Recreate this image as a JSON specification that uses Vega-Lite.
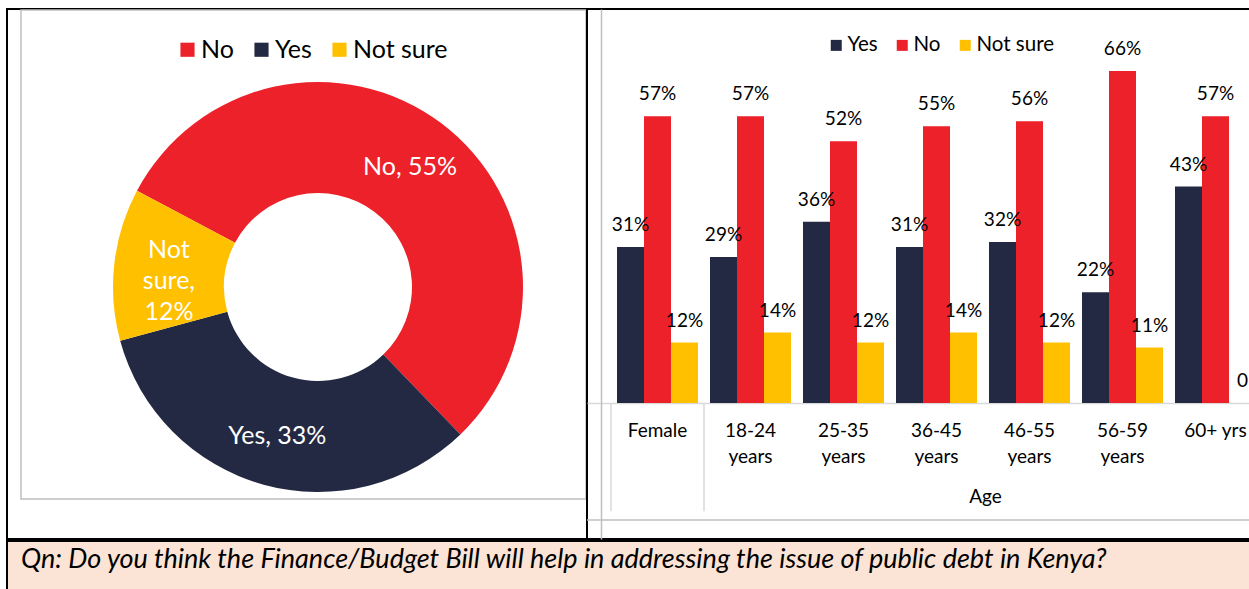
{
  "$schema": "https://vega.github.io/schema/vega-lite/v6.json",
  "padding": {"left": 6, "top": 8, "right": 0, "bottom": 0},
  "background": "white",
  "spacing": 0,
  "bounds": "full",
  "config": {"font": "Lato", "view": {"stroke": null}},
  "resolve": {"scale": {"x": "independent", "y": "independent", "color": "independent"}},
  "vconcat": [
    {
      "spacing": 0,
      "bounds": "flush",
      "resolve": {"scale": {"x": "independent", "y": "independent", "color": "independent", "theta": "independent"}, "legend": {"color": "independent"}, "axis": {"x": "independent", "y": "independent"}},
      "hconcat": [
        {
          "width": 580,
          "height": 530,
          "view": {"stroke": "black", "strokeWidth": 2},
          "data": {"values": [
            {"resp": "No", "pct": 55, "ord": 1, "label": "No, 55%"},
            {"resp": "Yes", "pct": 33, "ord": 2, "label": "Yes, 33%"},
            {"resp": "Not sure", "pct": 12, "ord": 3, "label": "Not|sure,|12%"}
          ]},
          "layer": [
            {
              "data": {"values": [{"frame": "left"}]},
              "mark": {"type": "rect", "fill": "white", "fillOpacity": 0, "stroke": "#BFBFBF", "strokeWidth": 1.5},
              "encoding": {
                "x": {"datum": 2.41, "scale": {"domain": [0, 100]}, "axis": null},
                "x2": {"datum": 99.83},
                "y": {"datum": 0.2, "scale": {"domain": [0, 100], "reverse": true}, "axis": null},
                "y2": {"datum": 92.45}
              }
            },
            {
              "mark": {"type": "arc", "radius": 205, "radius2": 94},
              "encoding": {
                "theta": {"field": "pct", "type": "quantitative", "stack": true, "scale": {"range": [-1.082, 5.201]}},
                "order": {"field": "ord", "type": "quantitative"},
                "color": {
                  "field": "resp", "type": "nominal",
                  "scale": {"domain": ["No", "Yes", "Not sure"], "range": ["#ED2129", "#232942", "#FFC000"]},
                  "legend": {"orient": "none", "legendX": 168, "legendY": 28, "direction": "horizontal", "title": null, "symbolType": "square", "symbolSize": 200, "symbolStrokeWidth": 0, "labelFontSize": 25, "labelColor": "black", "columnPadding": 15, "labelOffset": 1}
                },
                "x": {"datum": 53.62, "scale": {"domain": [0, 100]}, "axis": null},
                "y": {"datum": 52.45, "scale": {"domain": [0, 100], "reverse": true}, "axis": null}
              }
            },
            {
              "transform": [{"filter": "datum.resp != 'Not sure'"}],
              "mark": {"type": "text", "radius": 153, "color": "white", "fontSize": 25, "align": "center", "baseline": "middle", "dy": 2},
              "encoding": {
                "theta": {"field": "pct", "type": "quantitative", "stack": true, "scale": {"range": [-1.082, 5.201]}},
                "order": {"field": "ord", "type": "quantitative"},
                "text": {"field": "label"},
                "x": {"datum": 53.62, "scale": {"domain": [0, 100]}, "axis": null},
                "y": {"datum": 52.45, "scale": {"domain": [0, 100], "reverse": true}, "axis": null}
              }
            },
            {
              "mark": {"type": "text", "radius": 150, "color": "white", "fontSize": 25, "lineBreak": "|", "lineHeight": 31, "align": "center", "baseline": "middle", "dy": -20},
              "encoding": {
                "theta": {"field": "pct", "type": "quantitative", "stack": true, "scale": {"range": [-1.082, 5.201]}},
                "order": {"field": "ord", "type": "quantitative"},
                "text": {"condition": {"test": "datum.resp == 'Not sure'", "field": "label"}, "value": ""},
                "x": {"datum": 53.62, "scale": {"domain": [0, 100]}, "axis": null},
                "y": {"datum": 52.45, "scale": {"domain": [0, 100], "reverse": true}, "axis": null}
              }
            }
          ]
        },
        {
          "width": 699,
          "height": 530,
          "view": {"stroke": "black", "strokeWidth": 2},
          "data": {"values": [
            {"grp": "Female", "series": "Yes", "v": 31, "lab": "31%"},
            {"grp": "Female", "series": "No", "v": 57, "lab": "57%"},
            {"grp": "Female", "series": "Not sure", "v": 12, "lab": "12%"},
            {"grp": "18-24 years", "series": "Yes", "v": 29, "lab": "29%"},
            {"grp": "18-24 years", "series": "No", "v": 57, "lab": "57%"},
            {"grp": "18-24 years", "series": "Not sure", "v": 14, "lab": "14%"},
            {"grp": "25-35 years", "series": "Yes", "v": 36, "lab": "36%"},
            {"grp": "25-35 years", "series": "No", "v": 52, "lab": "52%"},
            {"grp": "25-35 years", "series": "Not sure", "v": 12, "lab": "12%"},
            {"grp": "36-45 years", "series": "Yes", "v": 31, "lab": "31%"},
            {"grp": "36-45 years", "series": "No", "v": 55, "lab": "55%"},
            {"grp": "36-45 years", "series": "Not sure", "v": 14, "lab": "14%"},
            {"grp": "46-55 years", "series": "Yes", "v": 32, "lab": "32%"},
            {"grp": "46-55 years", "series": "No", "v": 56, "lab": "56%"},
            {"grp": "46-55 years", "series": "Not sure", "v": 12, "lab": "12%"},
            {"grp": "56-59 years", "series": "Yes", "v": 22, "lab": "22%"},
            {"grp": "56-59 years", "series": "No", "v": 66, "lab": "66%"},
            {"grp": "56-59 years", "series": "Not sure", "v": 11, "lab": "11%"},
            {"grp": "60+ yrs", "series": "Yes", "v": 43, "lab": "43%"},
            {"grp": "60+ yrs", "series": "No", "v": 57, "lab": "57%"},
            {"grp": "60+ yrs", "series": "Not sure", "v": 0, "lab": "0"}
          ]},
          "layer": [
            {
              "mark": {"type": "bar"},
              "encoding": {
                "x": {
                  "field": "grp", "type": "nominal",
                  "sort": ["Female", "18-24 years", "25-35 years", "36-45 years", "46-55 years", "56-59 years", "60+ yrs"],
                  "scale": {"paddingInner": 0.129, "paddingOuter": 0.3226},
                  "axis": {
                    "orient": "bottom", "offset": -136, "title": "Age", "titleX": 398, "titleY": 93,
                    "titleFontSize": 19, "titleFontWeight": "normal", "titleBaseline": "middle", "titleAlign": "center", "titleColor": "black",
                    "labelAngle": 0, "labelFontSize": 19, "labelColor": "black", "labelPadding": 18, "labelLineHeight": 26,
                    "labelBaseline": "top",
                    "labelExpr": "datum.label == '60+ yrs' ? datum.label : split(datum.label, ' ')",
                    "ticks": false, "tickSize": 0, "domainColor": "#D9D9D9", "domainWidth": 1.5, "grid": false
                  }
                },
                "xOffset": {"field": "series", "type": "nominal", "sort": ["Yes", "No", "Not sure"], "scale": {"paddingInner": 0, "paddingOuter": 0}},
                "y": {
                  "field": "v", "type": "quantitative",
                  "scale": {"domain": [-27.04, 78.3], "nice": false, "zero": false},
                  "axis": {"orient": "left", "offset": -14, "domain": true, "domainColor": "#BFBFBF", "domainWidth": 1.5, "labels": false, "ticks": false, "grid": false, "title": null}
                },
                "y2": {"datum": 0},
                "color": {
                  "field": "series", "type": "nominal",
                  "scale": {"domain": ["Yes", "No", "Not sure"], "range": ["#232942", "#ED2129", "#FFC000"]},
                  "legend": {"orient": "none", "legendX": 239, "legendY": 26, "direction": "horizontal", "title": null, "symbolType": "square", "symbolSize": 121, "symbolStrokeWidth": 0, "labelFontSize": 20.5, "labelColor": "black", "columnPadding": 14, "labelOffset": 1}
                }
              }
            },
            {
              "mark": {"type": "text", "fontSize": 19, "color": "black", "baseline": "middle", "align": "center", "dy": -22},
              "encoding": {
                "x": {
                  "field": "grp", "type": "nominal",
                  "sort": ["Female", "18-24 years", "25-35 years", "36-45 years", "46-55 years", "56-59 years", "60+ yrs"],
                  "scale": {"paddingInner": 0.129, "paddingOuter": 0.3226},
                  "axis": {
                    "orient": "bottom", "offset": -136, "title": "Age", "titleX": 398, "titleY": 93,
                    "titleFontSize": 19, "titleFontWeight": "normal", "titleBaseline": "middle", "titleAlign": "center", "titleColor": "black",
                    "labelAngle": 0, "labelFontSize": 19, "labelColor": "black", "labelPadding": 18, "labelLineHeight": 26,
                    "labelBaseline": "top",
                    "labelExpr": "datum.label == '60+ yrs' ? datum.label : split(datum.label, ' ')",
                    "ticks": false, "tickSize": 0, "domainColor": "#D9D9D9", "domainWidth": 1.5, "grid": false
                  }
                },
                "xOffset": {"field": "series", "type": "nominal", "sort": ["Yes", "No", "Not sure"], "scale": {"paddingInner": 0, "paddingOuter": 0}},
                "y": {
                  "field": "v", "type": "quantitative",
                  "scale": {"domain": [-27.04, 78.3], "nice": false, "zero": false},
                  "axis": {"orient": "left", "offset": -14, "domain": true, "domainColor": "#BFBFBF", "domainWidth": 1.5, "labels": false, "ticks": false, "grid": false, "title": null}
                },
                "text": {"field": "lab"}
              }
            },
            {
              "data": {"values": [{"grp": "Female"}, {"grp": "18-24 years"}]},
              "mark": {"type": "rule", "color": "#D9D9D9", "strokeWidth": 1.5},
              "encoding": {
                "x": {
                  "field": "grp", "type": "nominal", "bandPosition": -0.074,
                  "sort": ["Female", "18-24 years", "25-35 years", "36-45 years", "46-55 years", "56-59 years", "60+ yrs"],
                  "scale": {"paddingInner": 0.129, "paddingOuter": 0.3226},
                  "axis": {
                    "orient": "bottom", "offset": -136, "title": "Age", "titleX": 398, "titleY": 93,
                    "titleFontSize": 19, "titleFontWeight": "normal", "titleBaseline": "middle", "titleAlign": "center", "titleColor": "black",
                    "labelAngle": 0, "labelFontSize": 19, "labelColor": "black", "labelPadding": 18, "labelLineHeight": 26,
                    "labelBaseline": "top",
                    "labelExpr": "datum.label == '60+ yrs' ? datum.label : split(datum.label, ' ')",
                    "ticks": false, "tickSize": 0, "domainColor": "#D9D9D9", "domainWidth": 1.5, "grid": false
                  }
                },
                "y": {
                  "datum": 0,
                  "scale": {"domain": [-27.04, 78.3], "nice": false, "zero": false},
                  "axis": {"orient": "left", "offset": -14, "domain": true, "domainColor": "#BFBFBF", "domainWidth": 1.5, "labels": false, "ticks": false, "grid": false, "title": null}
                },
                "y2": {"datum": -21.5}
              }
            },
            {
              "data": {"values": [{"frame": "bottom"}]},
              "mark": {"type": "rule", "color": "#BFBFBF", "strokeWidth": 1.5},
              "encoding": {
                "y": {
                  "datum": -23.25,
                  "scale": {"domain": [-27.04, 78.3], "nice": false, "zero": false},
                  "axis": {"orient": "left", "offset": -14, "domain": true, "domainColor": "#BFBFBF", "domainWidth": 1.5, "labels": false, "ticks": false, "grid": false, "title": null}
                }
              }
            }
          ]
        }
      ]
    },
    {
      "width": 1250,
      "height": 52,
      "view": {"stroke": "black", "strokeWidth": 2, "fill": "#FBE4D5"},
      "data": {"values": [{"q": "Qn: Do you think the Finance/Budget Bill will help in addressing the issue of public debt in Kenya?"}]},
      "mark": {"type": "text", "align": "left", "baseline": "middle", "fontSize": 27, "fontStyle": "italic", "color": "black"},
      "encoding": {
        "text": {"field": "q"},
        "x": {"datum": 1.12, "scale": {"domain": [0, 100]}, "axis": null},
        "y": {"datum": 36, "scale": {"domain": [0, 100], "reverse": true}, "axis": null}
      }
    }
  ]
}
